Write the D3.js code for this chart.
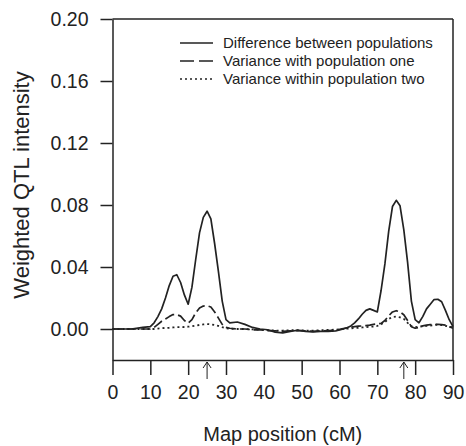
<!DOCTYPE html>
<html><head><meta charset="utf-8">
<script src="https://cdn.jsdelivr.net/npm/d3@7"></script>
<style>body{margin:0;background:#fff}svg{display:block}text{font-family:"Liberation Sans",Arial,sans-serif;fill:#222}</style>
</head><body>
<svg id="c" width="466" height="446"></svg>
<script>
const positions = [0,5,8,10,11,12,13,14,15,16,17,18,19,20,21,22,23,24,25,26,27,28,29,30,31,33,35,37,39,41,43,45,47,49,51,53,55,57,59,61,62,63,64,65,66,67,68,69,70,71,72,73,74,75,76,77,78,79,80,81,82,83,84,85,86,87,88,89,90];
const diffBetween = [0,0,0.001,0.0015,0.004,0.008,0.013,0.02,0.028,0.034,0.035,0.03,0.022,0.016,0.027,0.045,0.062,0.072,0.076,0.071,0.055,0.037,0.018,0.006,0.004,0.0045,0.003,0.001,0,-0.0005,-0.002,-0.0025,-0.0015,-0.0008,-0.0015,-0.0018,-0.0015,-0.0015,-0.0012,0,0.0008,0.002,0.004,0.0065,0.0095,0.012,0.013,0.012,0.011,0.025,0.042,0.063,0.079,0.083,0.0795,0.064,0.043,0.018,0.006,0.004,0.008,0.013,0.016,0.019,0.0192,0.0176,0.012,0.006,0.0015];
const varPopOne = [0,0,0,0,0.001,0.003,0.005,0.0065,0.008,0.0093,0.0093,0.0083,0.0055,0.0037,0.006,0.0105,0.0135,0.0148,0.015,0.0142,0.011,0.007,0.003,0.001,0.0005,0,0,-0.0005,-0.0005,-0.001,-0.0012,-0.0015,-0.0012,-0.001,-0.0012,-0.0015,-0.0012,-0.001,-0.0008,0.0003,0.0008,0.0012,0.0015,0.0018,0.002,0.0022,0.0025,0.003,0.0033,0.0036,0.0055,0.0085,0.011,0.0118,0.011,0.0092,0.0055,0.0015,0.0005,0.001,0.002,0.0025,0.0028,0.003,0.003,0.0028,0.0025,0.0015,0.0005];
const varPopTwo = [0,0,0,0,0,0.0003,0.0005,0.0007,0.0008,0.001,0.0012,0.0012,0.0013,0.0015,0.0018,0.0022,0.0026,0.003,0.0032,0.003,0.0026,0.002,0.0012,0.0005,0.0002,0,0,-0.0003,-0.0005,-0.0008,-0.001,-0.001,-0.0008,-0.0008,-0.001,-0.001,-0.0008,-0.0006,-0.0004,0,0.0002,0.0004,0.0006,0.0008,0.001,0.0012,0.0014,0.0016,0.002,0.003,0.0045,0.0065,0.0078,0.008,0.0075,0.0065,0.004,0.0018,0.0012,0.0015,0.0018,0.002,0.0022,0.0025,0.0028,0.0025,0.002,0.0015,0.001];
const seriesNames = ["Difference between populations","Variance with population one","Variance within population two"];
const yTicks = [0,0.04,0.08,0.12,0.16,0.20];
const xTicks = [0,10,20,30,40,50,60,70,80,90];
const arrowPositions = [25,77];

const svg = d3.select("#c");
const L=112.5, R=453, T=19, B=360;
const x = d3.scaleLinear().domain([0,90]).range([L,R]);
const y = d3.scaleLinear().domain([-0.02,0.20]).range([B,T]);
const ink="#222";

// curves
const dashes=[null,"10,4","2,3"];
const data=[diffBetween,varPopOne,varPopTwo];
const line=d3.line().x((d,i)=>x(positions[i])).y(d=>y(d));
data.forEach((s,k)=>{
  svg.append("path").datum(s).attr("d",line).attr("fill","none")
    .attr("stroke",ink).attr("stroke-width",k==2?1.8:1.7)
    .attr("stroke-dasharray",dashes[k]).attr("stroke-linejoin","round");
});

// box top & right
svg.append("line").attr("x1",L).attr("x2",R).attr("y1",T).attr("y2",T).attr("stroke",ink).attr("stroke-width",1.5);
svg.append("line").attr("x1",R).attr("x2",R).attr("y1",T).attr("y2",B).attr("stroke",ink).attr("stroke-width",1.5);

// y axis
const ya=svg.append("g").attr("transform",`translate(${L},0)`)
  .call(d3.axisLeft(y).tickValues(yTicks).tickFormat(d3.format(".2f")).tickSize(12).tickSizeOuter(0));
ya.select(".domain").attr("stroke",ink).attr("stroke-width",1.5);
ya.selectAll(".tick line").attr("stroke",ink).attr("stroke-width",1.5);
ya.selectAll("text").attr("font-size",19.5).attr("x",-24).style("font-family",'"Liberation Sans",Arial,sans-serif').attr("fill",ink);

// x axis
const xa=svg.append("g").attr("transform",`translate(0,${B})`)
  .call(d3.axisBottom(x).tickValues(xTicks).tickSize(15).tickSizeOuter(0));
xa.select(".domain").attr("stroke",ink).attr("stroke-width",1.5);
xa.selectAll(".tick line").attr("stroke",ink).attr("stroke-width",1.5);
xa.selectAll("text").attr("font-size",19.5).attr("y",25).style("font-family",'"Liberation Sans",Arial,sans-serif').attr("fill",ink);

// arrows
arrowPositions.forEach(p=>{
  const ax=x(p);
  svg.append("line").attr("x1",ax).attr("x2",ax).attr("y1",379).attr("y2",362).attr("stroke",ink).attr("stroke-width",1);
  svg.append("path").attr("d",`M${ax-4},${368}L${ax},${362}L${ax+4},${368}`).attr("fill","none").attr("stroke",ink).attr("stroke-width",1);
});

// legend
const lg=svg.append("g");
seriesNames.forEach((n,i)=>{
  const ly=43+i*18;
  lg.append("line").attr("x1",180).attr("x2",213).attr("y1",ly).attr("y2",ly)
    .attr("stroke",ink).attr("stroke-width",1.7).attr("stroke-dasharray",i==0?null:(i==1?"14,5":"2,3"));
  lg.append("text").attr("x",223).attr("y",ly).attr("dy","0.35em").attr("font-size",15).text(n);
});

// axis titles
svg.append("text").attr("x",(L+R)/2).attr("y",441).attr("text-anchor","middle").attr("font-size",20).text("Map position (cM)");
svg.append("text").attr("transform",`translate(29,185) rotate(-90)`).attr("text-anchor","middle").attr("font-size",22).text("Weighted QTL intensity");
</script>
</body></html>
